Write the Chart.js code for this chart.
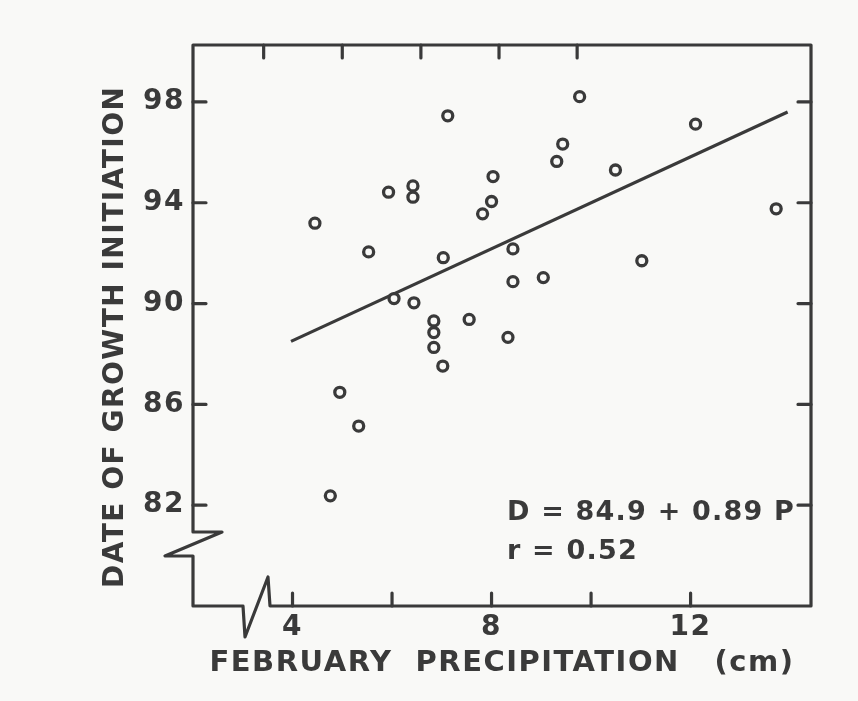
<!DOCTYPE html>
<html>
<head>
<meta charset="utf-8">
<script src="https://cdn.jsdelivr.net/npm/chart.js@4"></script>
<style>
  html, body { margin: 0; padding: 0; background: #f9f9f7; }
  canvas { display: block; }
</style>
</head>
<body>
<canvas id="chart" width="858" height="701"></canvas>
<script>
// February precipitation (cm) vs date of growth initiation
const precip = [7.12, 5.93, 6.42, 6.42, 8.03, 8.00, 7.82, 4.45, 5.53, 7.03, 8.43, 8.43, 6.04, 6.44, 6.84, 6.84,
                6.84, 7.55, 8.33, 7.02, 4.95, 5.33, 4.76, 9.77, 12.10, 9.43, 9.31, 10.49, 13.72, 11.02, 9.04];
const growthDate = [97.45, 94.42, 94.67, 94.22, 95.04, 94.05, 93.56, 93.19, 92.05, 91.82, 92.17, 90.87, 90.20, 90.03, 89.31, 88.85,
                    88.26, 89.37, 88.66, 87.52, 86.48, 85.14, 82.37, 98.21, 97.12, 96.33, 95.64, 95.30, 93.76, 91.70, 91.03];

// regression line ends (D = 84.9 + 0.89 P)
const fitX = [3.97, 13.95];
const fitY = [88.5, 97.6];

const xTicks = [4, 6, 8, 10, 12];
const xTickLabels = ['4', '', '8', '', '12'];
const yTicks = [82, 86, 90, 94, 98];
// odd tick marks along the top edge (in x units)
const topTicks = [3.42, 5.0, 6.58, 8.15, 9.72];

const ink = '#3a3a3a';
const paper = '#f9f9f7';
const lettering = { family: '"DejaVu Sans", sans-serif', size: 28, weight: 'bold' };

const framePlugin = {
    id: 'frame',
    beforeDraw(chart) {
        chart.ctx.letterSpacing = '1.5px';
    },
    afterDraw(chart) {
        const { ctx, chartArea: a, scales: { x, y } } = chart;
        ctx.save();
        ctx.strokeStyle = ink;
        ctx.lineWidth = 3.2;
        ctx.lineCap = 'round';
        ctx.lineJoin = 'round';

        // box with the two axis breaks
        ctx.beginPath();
        ctx.moveTo(a.right, a.top);
        ctx.lineTo(a.left, a.top);
        ctx.lineTo(a.left, a.bottom - 74);
        ctx.lineTo(a.left + 29, a.bottom - 74);
        ctx.lineTo(a.left - 28, a.bottom - 50);
        ctx.lineTo(a.left, a.bottom - 50);
        ctx.lineTo(a.left, a.bottom);
        ctx.lineTo(a.left + 50, a.bottom);
        ctx.lineTo(a.left + 52, a.bottom + 31);
        ctx.lineTo(a.left + 75, a.bottom - 29);
        ctx.lineTo(a.left + 77, a.bottom);
        ctx.lineTo(a.right, a.bottom);
        ctx.lineTo(a.right, a.top);
        ctx.stroke();

        // inward tick marks
        const len = 13;
        ctx.beginPath();
        yTicks.forEach(v => {
            const py = y.getPixelForValue(v);
            ctx.moveTo(a.left, py); ctx.lineTo(a.left + len, py);
            ctx.moveTo(a.right, py); ctx.lineTo(a.right - len, py);
        });
        xTicks.forEach(v => {
            const px = x.getPixelForValue(v);
            ctx.moveTo(px, a.bottom); ctx.lineTo(px, a.bottom - len);
        });
        topTicks.forEach(v => {
            const px = x.getPixelForValue(v);
            ctx.moveTo(px, a.top); ctx.lineTo(px, a.top + len);
        });
        ctx.stroke();

        // equation
        ctx.fillStyle = ink;
        ctx.font = 'bold 27px "DejaVu Sans", sans-serif';
        ctx.letterSpacing = '1.2px';
        ctx.textAlign = 'left';
        ctx.textBaseline = 'middle';
        const tx = x.getPixelForValue(8.31);
        ctx.fillText('D = 84.9 + 0.89 P', tx, y.getPixelForValue(81.68));
        ctx.fillText('r = 0.52', tx, y.getPixelForValue(80.13));
        ctx.restore();
    }
};

new Chart(document.getElementById('chart'), {
    type: 'scatter',
    data: {
        datasets: [
            {
                data: precip.map((p, i) => ({ x: p, y: growthDate[i] })),
                pointRadius: 5,
                borderWidth: 3.3,
                pointBackgroundColor: paper,
                pointBorderColor: ink
            },
            {
                type: 'line',
                data: fitX.map((p, i) => ({ x: p, y: fitY[i] })),
                borderColor: ink,
                borderWidth: 3.2,
                pointRadius: 0,
                fill: false
            }
        ]
    },
    options: {
        responsive: false,
        animation: false,
        events: [],
        layout: { padding: { top: 45, right: 47, left: 0, bottom: 0 } },
        plugins: { legend: { display: false }, tooltip: { enabled: false } },
        scales: {
            x: {
                type: 'linear',
                min: 2,
                max: 14.42,
                afterBuildTicks: s => { s.ticks = xTicks.map(v => ({ value: v })); },
                afterFit: s => { s.height = 95; },
                grid: { display: false, drawTicks: false },
                border: { display: false },
                ticks: {
                    callback: v => xTickLabels[xTicks.indexOf(v)],
                    font: lettering,
                    color: ink,
                    padding: 5,
                    maxRotation: 0,
                    autoSkip: false
                },
                title: {
                    display: true,
                    text: 'FEBRUARY  PRECIPITATION   (cm)',
                    font: { ...lettering, size: 29 },
                    color: ink,
                    padding: { top: 0, bottom: 20 }
                }
            },
            y: {
                min: 78,
                max: 100.26,
                afterBuildTicks: s => { s.ticks = yTicks.map(v => ({ value: v })); },
                afterFit: s => { s.width = 193; },
                grid: { display: false, drawTicks: false },
                border: { display: false },
                ticks: {
                    callback: v => String(v),
                    font: lettering,
                    color: ink,
                    padding: 8,
                    autoSkip: false
                },
                title: {
                    display: true,
                    text: 'DATE OF GROWTH INITIATION  ',
                    font: lettering,
                    color: ink,
                    padding: { top: 99, bottom: 0 }
                }
            }
        }
    },
    plugins: [framePlugin]
});
</script>
</body>
</html>
